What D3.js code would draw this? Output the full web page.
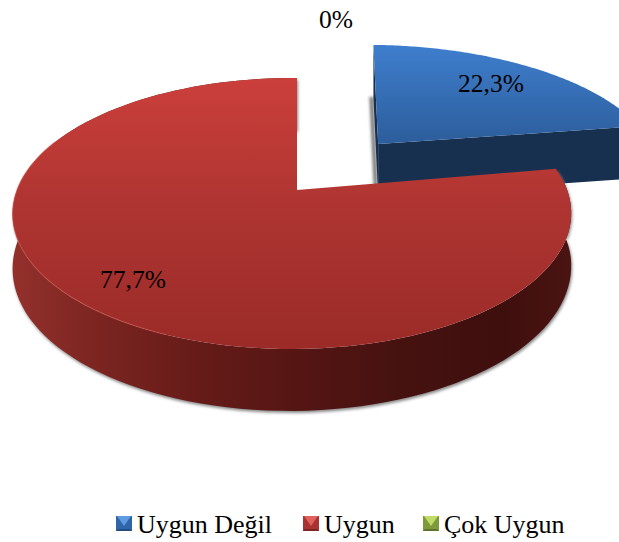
<!DOCTYPE html>
<html>
<head>
<meta charset="utf-8">
<script src="https://cdn.jsdelivr.net/npm/d3@7"></script>
<style>
html, body { margin: 0; padding: 0; background: #fff; }
svg { display: block; }
text { font-family: "Liberation Serif", "Times New Roman", serif; fill: #000; }
</style>
</head>
<body>
<script>
var categories = ["Uygun Değil", "Uygun", "Çok Uygun"],
	values = [22.3, 77.7, 0],
	valueLabels = ["22,3%", "77,7%", "0%"],
	explode = [0.49, 0, 0];

var width = 619,
	height = 542,
	apexX = 297,
	apexY = 190,
	radX = 275,
	radY = 131.4,
	persp = 0.1735,   // back of the pie is further away
	yaw = 0.018;

var svg = d3.select("body").append("svg")
	.attr("width", width)
	.attr("height", height),
	defs = svg.append("defs");

function linGrad(id, x1, y1, x2, y2, stops) {
	var g = defs.append("linearGradient")
		.attr("id", id)
		.attr("gradientUnits", "userSpaceOnUse")
		.attr("x1", x1).attr("y1", y1)
		.attr("x2", x2).attr("y2", y2);
	stops.forEach(function(s) {
		g.append("stop").attr("offset", s[0]).attr("stop-color", s[1]);
	});
}

linGrad("blueTop", 0, 43, 0, 145, [[0, "#3f7fce"], [1, "#2c5d9b"]]);
linGrad("redTop", 0, 78, 0, 349, [[0, "#cb3f3b"], [0.5, "#ad3431"], [1, "#9b2b28"]]);
linGrad("redSide", 13, 0, 571, 0, [
	[0, "#93302c"], [0.16, "#7a2420"], [0.34, "#651b18"], [0.52, "#541513"],
	[0.7, "#451210"], [0.88, "#3f0f0d"], [1, "#4a1411"]]);

defs.append("filter").attr("id", "soft")
	.attr("x", "-100%").attr("y", "-20%").attr("width", "300%").attr("height", "140%")
	.append("feGaussianBlur").attr("stdDeviation", 1.8);

// pie plane -> screen
function project(u, v) {
	var w = 1 + persp * v + yaw * u;
	return {
		x: apexX + radX * u / w,
		y: apexY - radY * v / w,
		w: w
	};
}

function depthAt(w) {
	return w < 1 ? 52 + 57 * (1 - w) : 52;
}

function lowered(p) {
	return { x: p.x, y: p.y + depthAt(p.w), w: p.w };
}

var line = d3.line().x(function(d) { return d.x; }).y(function(d) { return d.y; });

// stretch and nudge only used by the pulled out slice, it sits wider in the original
function rim(start, end, off, stretch, nudge) {
	var n = 120;
	return d3.range(n + 1).map(function(i) {
		var a = start + (end - start) * i / n;
		return project(off.u + nudge + stretch * Math.sin(a), off.v + Math.cos(a));
	});
}

var slices = d3.pie().sort(null).startAngle(0).endAngle(2 * Math.PI)(values);
var topFill = ["url(#blueTop)", "url(#redTop)", "#8fae3f"];
var sideFill = ["#17304f", "url(#redSide)", "#5c7027"];

// blue first, the red slice overlaps it
[0, 1, 2].forEach(function(i) {
	var s = slices[i];
	if (s.value <= 0) return;
	var mid = (s.startAngle + s.endAngle) / 2,
		off = { u: explode[i] * Math.sin(mid), v: explode[i] * Math.cos(mid) },
		apex = project(off.u, off.v),
		arc = i == 0 ? rim(s.startAngle, s.endAngle, off, 1.06, 0.03)
			: rim(s.startAngle, s.endAngle, off, 1, 0),
		g = svg.append("g").attr("class", "slice");

	// soft shadow of the back corner of the cut wall
	var backCorner = lowered(arc[i == 0 ? 0 : arc.length - 1]);
	g.append("path")
		.attr("d", line([backCorner, lowered(apex)]))
		.attr("transform", i == 0 ? "translate(-2,0)" : "translate(3,0)")
		.attr("fill", "none")
		.attr("stroke", "#777")
		.attr("stroke-width", 4)
		.attr("filter", "url(#soft)");

	if (i == 0) {
		// flat cut face toward the viewer
		var end = arc[arc.length - 1];
		g.append("path")
			.attr("d", line([apex, end, lowered(end), lowered(apex)]) + "Z")
			.attr("fill", sideFill[i]);
		g.append("path")
			.attr("d", line([apex, arc[0], lowered(arc[0]), lowered(apex)]) + "Z")
			.attr("fill", sideFill[i]);
	} else {
		var wall = arc.concat(arc.map(lowered).reverse());
		g.append("path")
			.attr("d", line(wall) + "Z")
			.attr("fill", "#888")
			.attr("transform", "translate(1,2)")
			.attr("filter", "url(#soft)");
		g.append("path").attr("d", line(wall) + "Z").attr("fill", sideFill[i]);
	}

	g.append("path")
		.attr("d", line([apex].concat(arc)) + "Z")
		.attr("fill", topFill[i]);

	if (i == 1) {
		// light rim along the front left edge
		var front = rim(3.55, 5.1, off, 1, 0);
		g.append("path")
			.attr("d", line(front))
			.attr("fill", "none")
			.attr("stroke", "#d4554f")
			.attr("stroke-opacity", 0.5)
			.attr("stroke-width", 1.2);
	}
});

// value labels
var labelX = [491, 133, 336],
	labelY = [92, 288, 28];
svg.append("g").selectAll("text")
	.data(valueLabels)
	.enter().append("text")
	.attr("x", function(d, i) { return labelX[i]; })
	.attr("y", function(d, i) { return labelY[i]; })
	.attr("text-anchor", "middle")
	.attr("font-size", 25.5)
	.text(function(d) { return d; });

// legend
var legendX = [116, 303, 423],
	legendBase = ["#2f66aa", "#a83330", "#7f9a3c"],
	legendLight = ["#5f9be0", "#e0605a", "#c0dc66"],
	legendEdge = ["#234d80", "#7d2522", "#5f732c"],
	boxW = 16,
	boxH = 15,
	boxY = 516;

var legend = svg.append("g").selectAll("g")
	.data(categories)
	.enter().append("g")
	.attr("transform", function(d, i) { return "translate(" + legendX[i] + "," + boxY + ")"; });

legend.append("rect")
	.attr("width", boxW)
	.attr("height", boxH)
	.attr("fill", function(d, i) { return legendBase[i]; });

legend.append("path")
	.attr("d", "M0," + boxH + "H" + boxW + "L" + (boxW - 2) + "," + (boxH - 2) + "H2Z")
	.attr("fill", function(d, i) { return legendEdge[i]; });

legend.append("path")
	.attr("d", "M1,0H" + (boxW - 1) + "L" + boxW / 2 + "," + (boxH - 5) + "Z")
	.attr("fill", function(d, i) { return legendLight[i]; });

legend.append("text")
	.attr("x", boxW + 5)
	.attr("y", 17)
	.attr("font-size", 26)
	.text(function(d) { return d; });
</script>
</body>
</html>
